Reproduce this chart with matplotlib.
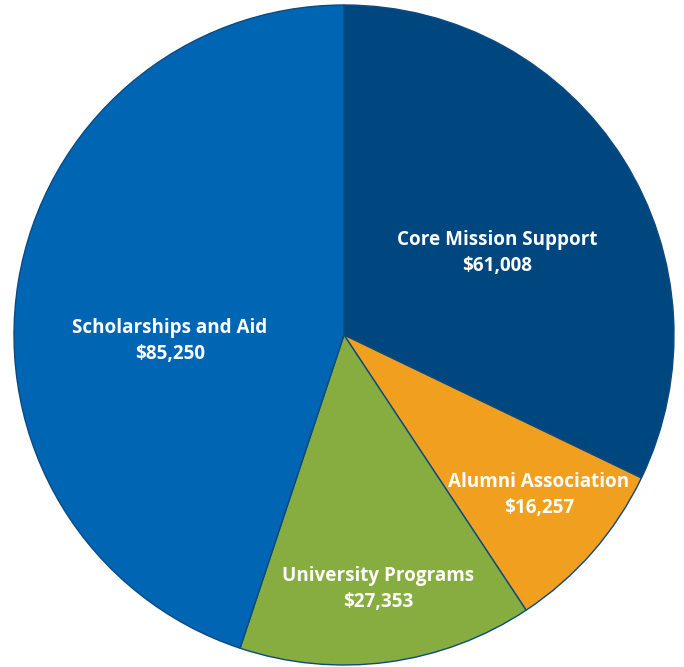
import matplotlib.pyplot as plt

categories = ["Core Mission Support", "Alumni Association", "University Programs", "Scholarships and Aid"]
amounts = [61008, 16257, 27353, 85250]
colors = ["#00467F", "#F0A01E", "#87AC3F", "#0066B3"]

# label anchor points (pixel space, y from top)
label_pos = [(497, 253), (539, 495), (378, 589), (170, 341)]

W, H = 684, 667
fig = plt.figure(figsize=(W / 100, H / 100), dpi=100)
ax = fig.add_axes([0, 0, 1, 1])

cx, cy, r = 344, 335, 330
ax.pie(amounts, colors=colors, startangle=90, counterclock=False,
       center=(cx, H - cy), radius=r, frame=True,
       wedgeprops=dict(edgecolor="#0B4A80", linewidth=1.0))
ax.set_xlim(0, W)
ax.set_ylim(0, H)
ax.set_aspect("equal")
ax.axis("off")

for name, val, (x, y) in zip(categories, amounts, label_pos):
    ax.text(x, H - y, f"{name}\n${val:,}", ha="center", va="center",
            color="white", fontsize=13.6, fontweight="bold",
            family="Open Sans", linespacing=1.4)

fig.savefig("out.png", dpi=100)
